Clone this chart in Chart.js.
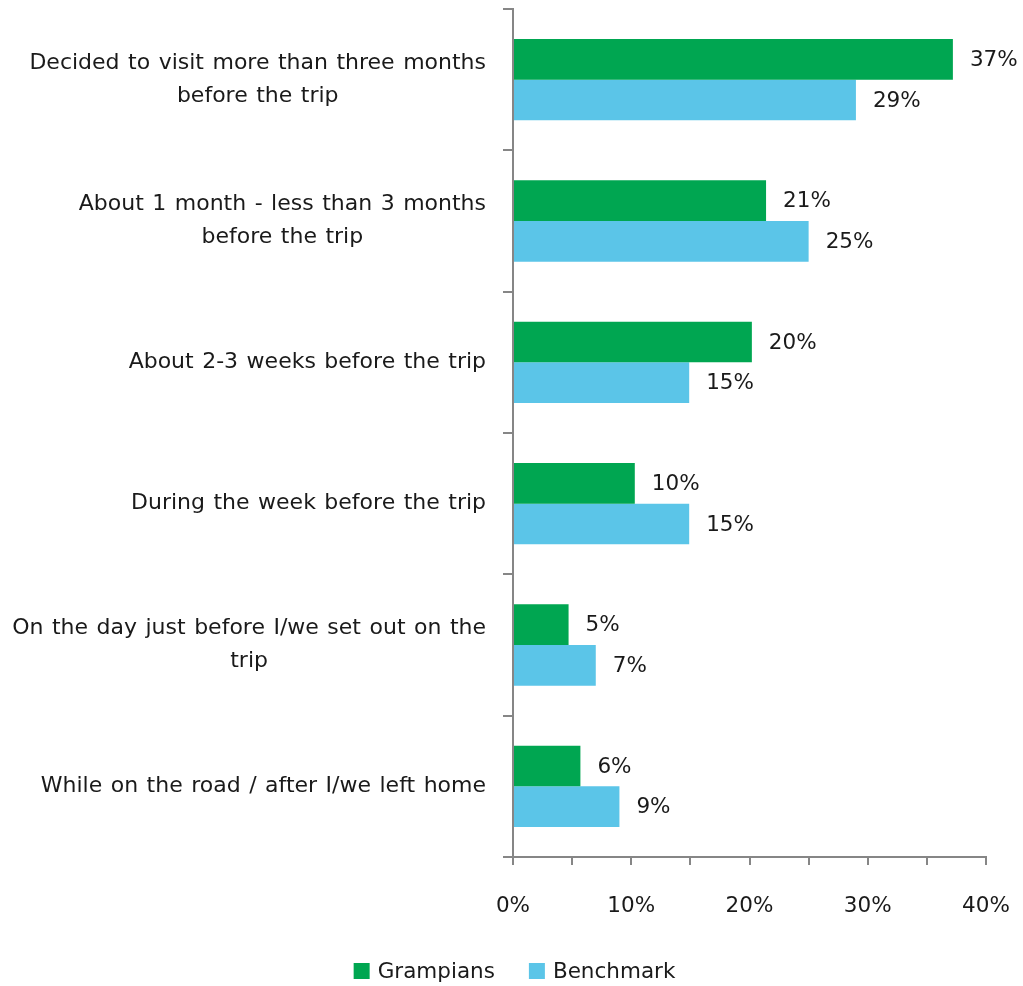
<!DOCTYPE html>
<html>
<head>
<meta charset="utf-8">
<script src="https://cdn.jsdelivr.net/npm/chart.js@4/dist/chart.umd.min.js"></script>
<style>
	html, body { margin: 0; padding: 0; background: #fff; }
	#wrap { width: 1023px; height: 986px; }
</style>
</head>
<body>
<div id="wrap"><canvas id="myChart"></canvas></div>
<script>
const categories = [
	['Decided to visit more than three months', 'before the trip'],
	['About 1 month - less than 3 months', 'before the trip'],
	['About 2-3 weeks before the trip'],
	['During the week before the trip'],
	['On the day just before I/we set out on the', 'trip'],
	['While on the road / after I/we left home']
];
const grampians = [37.2, 21.4, 20.2, 10.3, 4.7, 5.7];
const benchmark = [29.0, 25.0, 14.9, 14.9, 7.0, 9.0];
const xMin = 0;
const xMax = 40;
const xStep = 5; // minor tick marks, labels every 10%

const FONT = '"DejaVu Sans", Verdana, sans-serif';
const TEXT = '#1a1a1a';
const AXIS = '#868686';

Chart.defaults.font.family = FONT;
Chart.defaults.color = TEXT;

// category labels: block right-aligned, lines centred inside the block
const yLabels = {
	id: 'yLabels',
	afterDraw(chart) {
		const ctx = chart.ctx;
		const y = chart.scales.y;
		ctx.save();
		ctx.font = '22px ' + FONT;
		ctx.wordSpacing = '1.5px';
		ctx.fillStyle = TEXT;
		ctx.textAlign = 'center';
		ctx.textBaseline = 'middle';
		categories.forEach((lines, i) => {
			const cy = y.getPixelForValue(i);
			const w = Math.max(...lines.map(l => ctx.measureText(l).width));
			const cx = y.right - 27 - w / 2;
			lines.forEach((l, j) => {
				ctx.fillText(l, cx, cy + (j - (lines.length - 1) / 2) * 33);
			});
		});
		ctx.restore();
	}
};

// value labels at the end of each bar
const valueLabels = {
	id: 'valueLabels',
	afterDatasetsDraw(chart) {
		const ctx = chart.ctx;
		ctx.save();
		ctx.font = '21.5px ' + FONT;
		ctx.fillStyle = TEXT;
		ctx.textAlign = 'left';
		ctx.textBaseline = 'middle';
		chart.data.datasets.forEach((ds, di) => {
			chart.getDatasetMeta(di).data.forEach((bar, i) => {
				ctx.fillText(Math.round(ds.data[i]) + '%', bar.x + 17, bar.y + 1);
			});
		});
		ctx.restore();
	}
};

// legend under the axis: square swatch + name
const bottomLegend = {
	id: 'bottomLegend',
	afterDraw(chart) {
		const ctx = chart.ctx;
		ctx.save();
		ctx.font = '21.5px ' + FONT;
		ctx.textBaseline = 'middle';
		ctx.textAlign = 'left';
		const box = 16, gapText = 8, gapItem = 34;
		const items = chart.data.datasets.map(ds => ({
			text: ds.label, color: ds.backgroundColor, w: ctx.measureText(ds.label).width
		}));
		const total = items.reduce((s, it) => s + box + gapText + it.w, 0) + gapItem * (items.length - 1);
		let x = chart.width / 2 + 3 - total / 2;
		const cy = chart.height - 15;
		items.forEach(it => {
			ctx.fillStyle = it.color;
			ctx.fillRect(x, cy - box / 2, box, box);
			x += box + gapText;
			ctx.fillStyle = TEXT;
			ctx.fillText(it.text, x, cy + 1);
			x += it.w + gapItem;
		});
		ctx.restore();
	}
};

const ctx = document.getElementById('myChart').getContext('2d');
new Chart(ctx, {
	type: 'bar',
	data: {
		labels: categories,
		datasets: [
			{ label: 'Grampians', data: grampians, backgroundColor: '#00A651' },
			{ label: 'Benchmark', data: benchmark, backgroundColor: '#5BC5E8' }
		]
	},
	options: {
		indexAxis: 'y',
		responsive: true,
		maintainAspectRatio: false,
		animation: false,
		categoryPercentage: 0.575,
		barPercentage: 1.0,
		layout: { padding: { top: 9, right: 37, left: 0, bottom: 59 } },
		plugins: {
			tooltip: { enabled: false },
			legend: { display: false }
		},
		scales: {
			x: {
				min: xMin,
				max: xMax,
				ticks: {
					stepSize: xStep,
					font: { size: 21.5 },
					color: TEXT,
					padding: 29,
					maxRotation: 0,
					autoSkip: false,
					callback: v => (v % 10 === 0 ? v + '%' : '')
				},
				grid: {
					drawOnChartArea: false,
					drawTicks: true,
					tickLength: 8,
					color: AXIS,
					lineWidth: 2
				},
				border: { color: AXIS, width: 2 },
				afterFit(scale) {
					scale.height = 70;
					scale.paddingRight = 0;
					scale.paddingLeft = 0;
				}
			},
			y: {
				ticks: { display: false },
				grid: {
					offset: true,
					drawOnChartArea: false,
					drawTicks: true,
					tickLength: 10,
					color: AXIS,
					lineWidth: 2
				},
				border: { color: AXIS, width: 2 },
				afterFit(scale) { scale.width = 513; }
			}
		}
	},
	plugins: [yLabels, valueLabels, bottomLegend]
});
</script>
</body>
</html>
